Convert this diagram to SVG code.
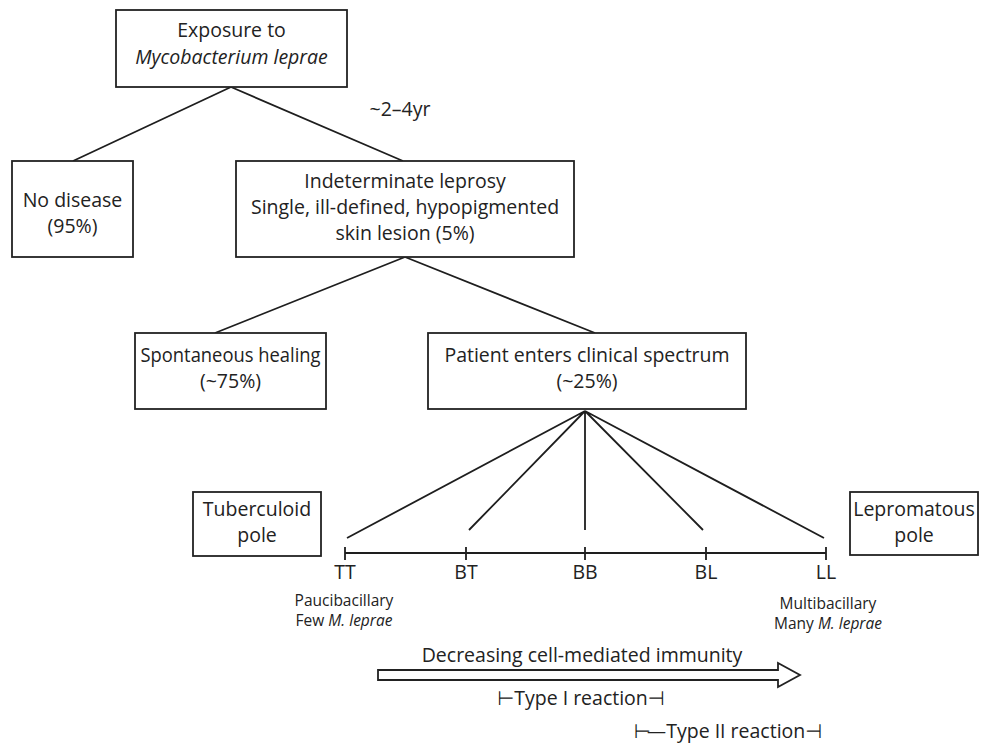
<svg xmlns="http://www.w3.org/2000/svg" width="982" height="744" viewBox="0 0 982 744">
  <style>
    .box { fill: #fff; stroke: #222; stroke-width: 1.8; }
    .link { fill: none; stroke: #1e1e1e; stroke-width: 1.8; }
    text { font-family: "Open Sans", "DejaVu Sans", sans-serif; fill: #222; text-anchor: middle; }
    .t { font-size: 19.5px; }
    .s { font-size: 15.5px; }
    .it { font-style: italic; }
    .tack { font-family: "DejaVu Sans", sans-serif; }
  </style>

  <!-- tree connectors and spectrum axis -->
  <g id="connectors">
    <path class="link" d="M231,87 L73,161 M231,87 L403,161"/>
    <path class="link" d="M405,257 L215,333 M405,257 L595,333"/>
    <path class="link" d="M585,411 L347,538 M585,411 L469,530 M585,411 L585,530 M585,411 L703,530 M585,411 L824,538"/>
    <!-- spectrum axis with ticks -->
    <path class="link" d="M345,553 L826,553 M345,547 L345,560 M466,547 L466,560 M585,547 L585,560 M706,547 L706,560 M826,547 L826,560"/>
    <!-- hollow arrow: decreasing cell-mediated immunity -->
    <path d="M378,670 L778,670 L778,663 L800,675 L778,687 L778,680 L378,680 Z" fill="#fff" stroke="#222" stroke-width="1.8" stroke-linejoin="miter"/>
  </g>

  <g id="exposure">
    <rect class="box" x="116" y="10" width="231" height="77"/>
    <text class="t" x="231.5" y="37">Exposure to</text>
    <text class="t it" x="231.5" y="64">Mycobacterium leprae</text>
  </g>

  <text class="t" x="400" y="116">~2–4yr</text>

  <g id="no-disease">
    <rect class="box" x="12" y="161" width="121" height="96"/>
    <text class="t" x="72.5" y="207">No disease</text>
    <text class="t" x="72.5" y="233">(95%)</text>
  </g>

  <g id="indeterminate">
    <rect class="box" x="236" y="161" width="338" height="96"/>
    <text class="t" x="405" y="188">Indeterminate leprosy</text>
    <text class="t" x="405" y="214">Single, ill-defined, hypopigmented</text>
    <text class="t" x="405" y="240">skin lesion (5%)</text>
  </g>

  <g id="spontaneous-healing">
    <rect class="box" x="135" y="333" width="191" height="76"/>
    <text class="t" x="230.5" y="362" textLength="180" lengthAdjust="spacingAndGlyphs">Spontaneous healing</text>
    <text class="t" x="230.5" y="388">(~75%)</text>
  </g>

  <g id="clinical-spectrum">
    <rect class="box" x="428" y="333" width="318" height="76"/>
    <text class="t" x="587" y="362">Patient enters clinical spectrum</text>
    <text class="t" x="587" y="388">(~25%)</text>
  </g>

  <g id="tuberculoid-pole">
    <rect class="box" x="193" y="492" width="128" height="64"/>
    <text class="t" x="257" y="516">Tuberculoid</text>
    <text class="t" x="257" y="542">pole</text>
  </g>

  <g id="lepromatous-pole">
    <rect class="box" x="850" y="492" width="128" height="63"/>
    <text class="t" x="914" y="516">Lepromatous</text>
    <text class="t" x="914" y="542">pole</text>
  </g>

  <g id="spectrum-labels">
    <text class="t" x="345" y="579">TT</text>
    <text class="t" x="466" y="579">BT</text>
    <text class="t" x="585" y="579">BB</text>
    <text class="t" x="706" y="579">BL</text>
    <text class="t" x="826" y="579">LL</text>
    <text class="s" x="344" y="606">Paucibacillary</text>
    <text class="s" x="344" y="626">Few <tspan class="it">M. leprae</tspan></text>
    <text class="s" x="828" y="609">Multibacillary</text>
    <text class="s" x="828" y="629">Many <tspan class="it">M. leprae</tspan></text>
  </g>

  <g id="immunity-labels">
    <text class="t" x="582" y="662">Decreasing cell-mediated immunity</text>
    <text class="t" x="581" y="705"><tspan class="tack">⊢</tspan>Type I reaction<tspan class="tack">⊣</tspan></text>
    <text class="t" x="728" y="738"><tspan class="tack" style="letter-spacing:-4px">⊢—</tspan><tspan dx="4">Type II reaction</tspan><tspan class="tack">⊣</tspan></text>
  </g>
</svg>
